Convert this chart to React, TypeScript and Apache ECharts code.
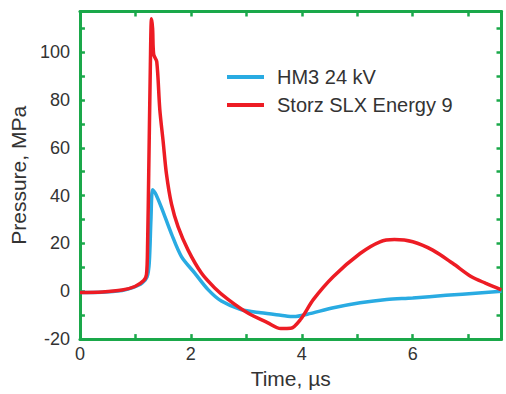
import React, { useEffect, useRef } from "react";
import * as echarts from "echarts";

const hm3: [number, number][] = [
  [0, -0.5], [0.4, -0.4], [0.76, 0.3], [0.95, 1.5], [1.12, 3.4], [1.21, 6], [1.25, 12],
  [1.28, 30], [1.31, 42.5], [1.36, 41], [1.47, 35], [1.65, 24], [1.83, 14.5],
  [2.07, 7.6], [2.31, 0.7], [2.55, -4.1], [2.9, -7.6], [3.26, -9], [3.62, -10],
  [3.86, -10.6], [4.1, -9.6], [4.57, -6.9], [5.05, -4.8], [5.53, -3.4], [6.0, -2.8],
  [6.6, -1.7], [7.19, -0.7], [7.6, 0],
];

const storz: [number, number][] = [
  [0, -0.5], [0.4, -0.3], [0.76, 0.5], [0.99, 2], [1.15, 4.5], [1.2, 7], [1.22, 20],
  [1.24, 49], [1.27, 95], [1.29, 114], [1.31, 110], [1.33, 99], [1.385, 96],
  [1.44, 76], [1.5, 62.7], [1.56, 49], [1.65, 36.5], [1.77, 26.9], [1.95, 17.2],
  [2.19, 7.6], [2.43, 1.4], [2.67, -3.4], [3.02, -9], [3.38, -13.1], [3.62, -15.6],
  [3.8, -15.5], [3.98, -11.7], [4.21, -3.4], [4.57, 6.2], [5.05, 15.8], [5.41, 20.7],
  [5.67, 21.6], [6.0, 20.7], [6.36, 17.2], [6.72, 11.7], [7.05, 6.2], [7.31, 3.4],
  [7.6, 0.6],
];

const seriesNames = ["HM3 24 kV", "Storz SLX Energy 9"];
const xLabels = [0, 2, 4, 6];
const yLabels = [-20, 0, 20, 40, 60, 80, 100];

const GREEN = "#1aa84a";
const FONT = "Liberation Sans, Arial, Helvetica, sans-serif";

export default function App() {
  const ref = useRef<HTMLDivElement>(null);
  useEffect(() => {
    if (!ref.current) return;
    const chart = echarts.init(ref.current, undefined, { renderer: "svg" });
    const frameAxis = {
      axisLine: { show: true, onZero: false, lineStyle: { color: GREEN, width: 3 } },
      axisTick: { show: true, inside: true, length: 5, lineStyle: { color: GREEN, width: 2.5 } },
      splitLine: { show: false },
    };
    chart.setOption({
      animation: false,
      grid: { left: 77, right: 4.5, top: 11.5, bottom: 51, containLabel: false },
      legend: {
        orient: "vertical",
        left: 222,
        top: 62,
        itemWidth: 37,
        itemHeight: 4,
        itemGap: 8,
        icon: "rect",
        data: seriesNames,
        textStyle: { fontFamily: FONT, fontSize: 20, color: "#333", lineHeight: 20, padding: [0, 0, 0, 8] },
      },
      xAxis: [
        {
          type: "value", min: 0, max: 7.6, interval: 1, position: "bottom",
          ...frameAxis,
          name: "Time, µs", nameLocation: "middle", nameGap: 28,
          nameTextStyle: { fontFamily: FONT, fontSize: 21, color: "#333" },
          axisLabel: {
            fontFamily: FONT, fontSize: 18, color: "#333", margin: 6, showMaxLabel: false,
            formatter: (v: number) => (xLabels.includes(v) ? String(v) : ""),
          },
        },
        {
          type: "value", min: 0, max: 7.6, interval: 1, position: "top",
          ...frameAxis, axisLabel: { show: false },
        },
      ],
      yAxis: [
        {
          type: "value", min: -20, max: 117, interval: 10, position: "left",
          ...frameAxis,
          name: "Pressure, MPa", nameLocation: "middle", nameGap: 31,
          nameTextStyle: { fontFamily: FONT, fontSize: 21, color: "#333" },
          axisLabel: {
            fontFamily: FONT, fontSize: 18, color: "#333", margin: 10, showMaxLabel: false,
            formatter: (v: number) => (yLabels.includes(v) ? String(v) : ""),
          },
        },
        {
          type: "value", min: -20, max: 117, interval: 10, position: "right",
          ...frameAxis, axisLabel: { show: false },
        },
      ],
      series: [
        {
          name: seriesNames[0], type: "line", data: hm3, showSymbol: false, symbol: "none",
          smooth: 0.3, lineStyle: { color: "#29abe2", width: 3.5 }, itemStyle: { color: "#29abe2" },
        },
        {
          name: seriesNames[1], type: "line", data: storz, showSymbol: false, symbol: "none",
          smooth: 0.3, lineStyle: { color: "#ed1c24", width: 3.5 }, itemStyle: { color: "#ed1c24" },
        },
      ],
    });
    return () => chart.dispose();
  }, []);
  return <div ref={ref} style={{ width: 506, height: 394, position: "absolute", left: 0, top: 0 }} />;
}
